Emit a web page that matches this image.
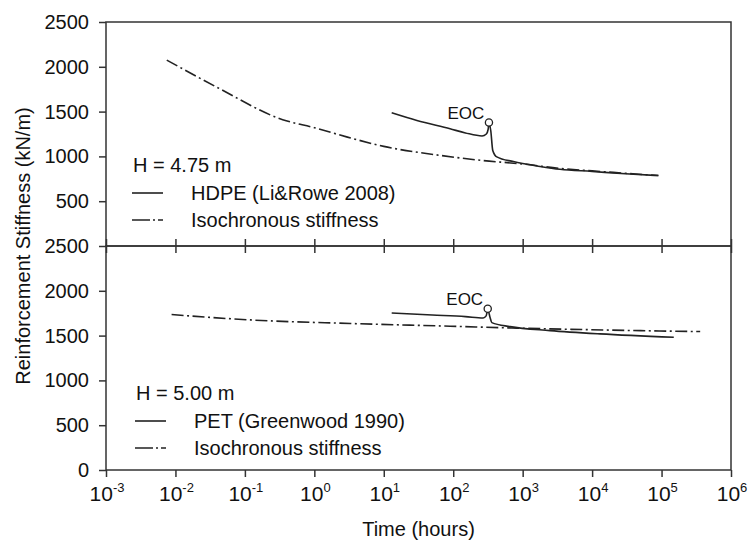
<!DOCTYPE html>
<html>
<head>
<meta charset="utf-8">
<script src="https://cdn.jsdelivr.net/npm/d3@7"></script>
<style>
  body { margin: 0; background: #fff; }
  svg text { font-family: "Liberation Sans", Arial, sans-serif; fill: #111; }
</style>
</head>
<body>
<div id="chart"></div>
<script>
// data (time in hours, stiffness in kN/m)
let hdpeTime = [13, 30, 90, 150, 260, 300, 318, 327, 347, 371, 424, 735, 1780, 3450, 10000, 30000, 90000];
let hdpeStiff = [1486, 1400, 1308, 1262, 1228, 1250, 1300, 1367, 1289, 1067, 995, 942, 888, 856, 832, 806, 786];

let topIsoTime = [0.0075, 0.04, 0.35, 1, 3, 10, 65, 250, 1000, 3500, 10000, 30000, 90000];
let topIsoStiff = [2075, 1770, 1410, 1320, 1215, 1112, 1011, 956, 915, 865, 838, 812, 786];

let petTime = [13, 50, 150, 270, 298, 314, 340, 360, 658, 2480, 13000, 150000];
let petStiff = [1752, 1730, 1712, 1697, 1720, 1789, 1700, 1645, 1600, 1556, 1519, 1481];

let botIsoTime = [0.0088, 0.12, 3.3, 90, 700, 5000, 50000, 360000];
let botIsoStiff = [1735, 1675, 1635, 1605, 1585, 1570, 1555, 1545];

// end of construction markers
let eocTime = [327, 314];
let eocStiff = [1367, 1789];

let xTickExp = [-3, -2, -1, 0, 1, 2, 3, 4, 5, 6];
let yTicksTop = [500, 1000, 1500, 2000, 2500];
let yTicksBottom = [0, 500, 1000, 1500, 2000, 2500];

let panelLabels = ["H = 4.75 m", "H = 5.00 m"];
let solidLabels = ["HDPE (Li&Rowe 2008)", "PET (Greenwood 1990)"];
let isoLabel = "Isochronous stiffness";

// svg size
let svgWidth = 748;
let svgHeight = 544;

let margin = { top: 22, left: 106, right: 17 };
let panelHeight = 224;
let width = svgWidth - margin.left - margin.right;
let ink = "#222";

let svg = d3
  .select("#chart")
  .append("svg")
  .attr("width", svgWidth)
  .attr("height", svgHeight);

// shared log x scale
let xScale = d3
  .scaleLog()
  .domain([1e-3, 1e6])
  .range([margin.left, margin.left + width]);

function yScaleFor(top) {
  return d3
    .scaleLinear()
    .domain([0, 2500])
    .range([top + panelHeight, top]);
}

let panels = [
  {
    top: margin.top,
    ticks: yTicksTop,
    solid: hdpeTime.map((t, i) => [t, hdpeStiff[i]]),
    iso: topIsoTime.map((t, i) => [t, topIsoStiff[i]]),
    eoc: [eocTime[0], eocStiff[0]],
    legendX: 133,
    legendY: 172
  },
  {
    top: margin.top + panelHeight,
    ticks: yTicksBottom,
    solid: petTime.map((t, i) => [t, petStiff[i]]),
    iso: botIsoTime.map((t, i) => [t, botIsoStiff[i]]),
    eoc: [eocTime[1], eocStiff[1]],
    legendX: 136,
    legendY: 400
  }
];

panels.forEach(function(p, k) {
  let y = yScaleFor(p.top);
  let g = svg.append("g");

  // frame
  g.append("rect")
    .attr("x", margin.left)
    .attr("y", p.top)
    .attr("width", width)
    .attr("height", panelHeight)
    .attr("fill", "none")
    .attr("stroke", "#333")
    .attr("stroke-width", 1.5);

  // left axis
  let leftAxis = d3
    .axisLeft(y)
    .tickValues(p.ticks)
    .tickSize(7)
    .tickPadding(10)
    .tickFormat(d3.format("d"));

  let ya = g
    .append("g")
    .attr("transform", `translate(${margin.left}, 0)`)
    .call(leftAxis);
  ya.select(".domain").remove();
  ya.selectAll("line").attr("stroke", "#333").attr("stroke-width", 1.5);
  ya.selectAll("text")
    .attr("font-size", 20)
    .attr("font-family", "Liberation Sans, Arial, sans-serif")
    .attr("fill", "#111");

  // bottom ticks of each panel
  let bottomAxis = d3
    .axisBottom(xScale)
    .tickValues(xTickExp.map(e => Math.pow(10, e)))
    .tickSize(7)
    .tickFormat("");
  let xa = g
    .append("g")
    .attr("transform", `translate(0, ${p.top + panelHeight})`)
    .call(bottomAxis);
  xa.select(".domain").remove();
  xa.selectAll("line").attr("stroke", "#333").attr("stroke-width", 1.5);

  if (k === 1) {
    // upward ticks on the shared boundary
    let upAxis = d3
      .axisTop(xScale)
      .tickValues(xTickExp.map(e => Math.pow(10, e)))
      .tickSize(7)
      .tickFormat("");
    let ua = g
      .append("g")
      .attr("transform", `translate(0, ${p.top})`)
      .call(upAxis);
    ua.select(".domain").remove();
    ua.selectAll("line").attr("stroke", "#333").attr("stroke-width", 1.5);
  }

  let line = d3
    .line()
    .x(d => xScale(d[0]))
    .y(d => y(d[1]))
    .curve(d3.curveMonotoneX);

  // isochronous curve
  g.append("path")
    .datum(p.iso)
    .attr("d", line)
    .attr("fill", "none")
    .attr("stroke", ink)
    .attr("stroke-width", 1.6)
    .attr("stroke-dasharray", "12,3.5,2,3.5");

  // measured curve
  g.append("path")
    .datum(p.solid)
    .attr("d", line)
    .attr("fill", "none")
    .attr("stroke", ink)
    .attr("stroke-width", 1.6);

  // EOC marker
  g.append("circle")
    .attr("cx", xScale(p.eoc[0]))
    .attr("cy", y(p.eoc[1]) - 1)
    .attr("r", 3.6)
    .attr("fill", "#fff")
    .attr("stroke", ink)
    .attr("stroke-width", 1.3);

  g.append("text")
    .attr("x", xScale(p.eoc[0]) - 23)
    .attr("y", y(p.eoc[1]) - 5)
    .attr("text-anchor", "middle")
    .attr("font-size", 17)
    .text("EOC");

  // legend
  let lg = g.append("g").attr("transform", `translate(${p.legendX}, ${p.legendY})`);
  lg.append("text").attr("x", 0).attr("y", 0).attr("font-size", 20).text(panelLabels[k]);

  lg.append("line")
    .attr("x1", -1).attr("x2", 30)
    .attr("y1", 21).attr("y2", 21)
    .attr("stroke", ink).attr("stroke-width", 1.6);
  lg.append("text").attr("x", 58).attr("y", 28).attr("font-size", 20).text(solidLabels[k]);

  lg.append("line")
    .attr("x1", -1).attr("x2", 30)
    .attr("y1", 48).attr("y2", 48)
    .attr("stroke", ink).attr("stroke-width", 1.6)
    .attr("stroke-dasharray", "18,3,2,3,5");
  lg.append("text").attr("x", 58).attr("y", 55).attr("font-size", 20).text(isoLabel);
});

// x tick labels as powers of ten
let bottomY = margin.top + 2 * panelHeight;
let xLabels = svg
  .append("g")
  .selectAll("text")
  .data(xTickExp)
  .enter()
  .append("text")
  .attr("x", d => xScale(Math.pow(10, d)) + 1)
  .attr("y", bottomY + 31)
  .attr("text-anchor", "middle")
  .attr("font-size", 21);
xLabels.append("tspan").text("10");
xLabels
  .append("tspan")
  .attr("dy", -9)
  .attr("font-size", 13)
  .text(d => d);

// axis titles
svg.append("text")
  .attr("x", margin.left + width / 2)
  .attr("y", 536)
  .attr("text-anchor", "middle")
  .attr("font-size", 20)
  .text("Time (hours)");

svg.append("text")
  .attr("transform", `translate(30, ${margin.top + panelHeight}) rotate(-90)`)
  .attr("text-anchor", "middle")
  .attr("font-size", 20)
  .text("Reinforcement Stiffness (kN/m)");
</script>
</body>
</html>
